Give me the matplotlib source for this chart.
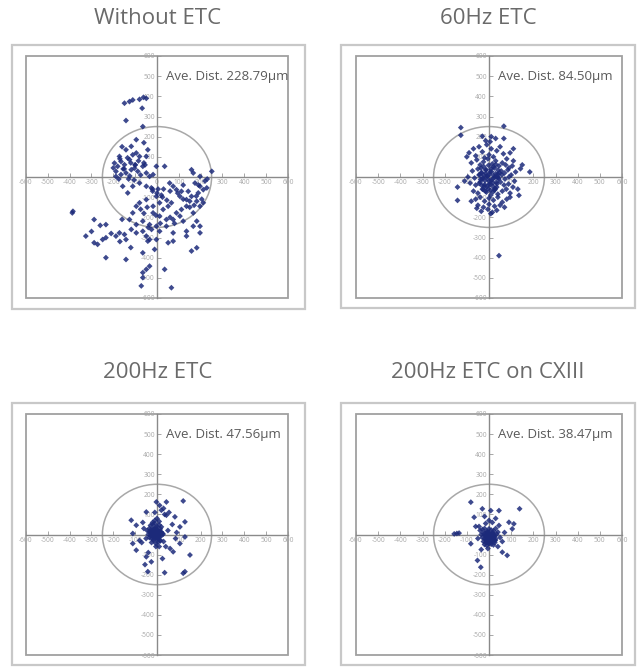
import numpy as np
import matplotlib.pyplot as plt
from matplotlib.patches import Circle, Rectangle

plt.rcParams['font.family'] = ['Open Sans', 'DejaVu Sans']

titles = ["Without ETC", "60Hz ETC", "200Hz ETC", "200Hz ETC on CXIII"]
ave_dist = [228.79, 84.50, 47.56, 38.47]
ticks = list(range(-600, 601, 100))
tol_radius = 250

# position error samples (um)
x_none = [-149, -126, -111, -80, -62, -49, -68, -142, -65,
          -195, -180, -165, -149, -126, -111, -95, -80, -188, -165, -142, -118, -103, -88, -65, -49,
          -34, -18, -111, -80, -49, -26, -157, -134, -188, -172, -142, -118, -95, -49, -42,
          35, -3, 158, 166, 197, 251, 174, 197, 212, 189, 158, 182, 197, 212, 135, 105, 74, 58, 89,
          112, 143, 228,
          -3, 12, -18, 28, 51, 66, 89, 112, 74, 43, 12, -18, -49, -80, -95, -111, -65, -34, -3,
          -126, -95, 12, 43, 105, 120, 135, 166, 182, 197, 197,
          -385, -388, -288, -234, -326, -288, -272, -249, -234, -188, -172, -149, -142, -118, -95,
          -65, -49, -34, -3, -234, -142, -65, -42, -11,
          -49, -34, -65, 35, -65, -72, 66,
          135, 166, 158, 182, 135, 74, 51, 74,
          -130, -100, -20, 20, 150, 230, 120, -160, -60, 5,
          -170, -155, -135, -120, -100, -85, -60, -200, -175, -150, -125, -105, -75, -55,
          180, 205, 220, 190, 170, 150, 120, 95, 60, 30, 15, -5, -25, -45,
          -20, 0, 25, 45, 60, 80, -75, -60, -40, -160, -210, -260, -300, -170, -120]
y_none = [366, 374, 382, 385, 395, 390, 341, 280, 250,
          69, 53, 77, 61, 86, 110, 119, 102, 28, 12, 20, 36, 44, 28, 53, 20,
          3, 12, -46, -30, -46, -54, -46, -79, 3, 102, 135, 152, 185, 102, 135,
          53, 53, 36, 20, 3, 28, -30, -46, -63, -79, -96, -120, -145, -128, -112, -96, -46, -30, -63,
          -71, -71, -54,
          -96, -128, -145, -161, -145, -128, -178, -161, -211, -211, -194, -178, -112, -128, -145,
          -178, -219, -236, -244,
          -211, -236, -269, -244, -194, -219, -145, -178, -219, -244, -277,
          -170, -178, -211, -236, -293, -326, -334, -310, -301, -293, -277, -285, -310, -260, -277,
          -269, -293, -310, -310, -400, -409, -376, -318, -359,
          -458, -442, -474, -458, -499, -540, -549,
          -269, -244, -367, -351, -293, -277, -326, -318,
          -10, 60, -70, -90, -150, -10, -40, 150, 170, -60,
          90, 40, 95, 70, 60, 80, 70, 45, -10, 40, 5, -15, 10, 60,
          -95, -110, -20, -40, -140, -120, -110, -80, -70, -60, -230, -190, -260, -150,
          -60, -80, -100, -115, -200, -230, -160, -180, -250, -210, -280, -240, -270, -320, -350]

x_60 = [-127, -127, 67, -30, 30, 67, 184, -142, -142, 8, 45, 135, 142,
        -90, -70, -60, -45, -30, -20, -10, 0, 10, 20, 35, 50, 65, 80, 95, 110,
        -80, -55, -40, -25, -5, 15, 30, 45, 60, 75, 90, 105,
        -75, -50, -35, -15, 5, 25, 40, 55, 70, 85, 100, 120,
        -95, -65, -45, -30, -10, 10, 28, 42, 58, 72, 90, 115,
        -85, -60, -40, -20, 0, 18, 35, 52, 68, 88, 108,
        -70, -50, -30, -12, 8, 25, 40, 60, 78, 95,
        -60, -40, -20, 0, 20, 40, 60, 80,
        -50, -25, 0, 25, 50, -35, -5, 15, 35, -15, 5,
        -100, -110, 150, 130, 110, -80, 95, -55, 70, 10,
        -42, -33, -22, -14, -6, 3, 12, 21, 30, 38, 47, -38, -28, -18, -8, 2, 14, 24, 33, 44,
        -44, -32, -20, -9, 6, 17, 27, 36, -36, -24, -13, -2, 9, 19, 31, 41, -26, -16, -4, 7, 18, 28]
y_60 = [245, 207, 252, 202, 191, 191, 25, -50, -116, -182, -390, -91, 41,
        120, 140, 105, 150, 125, 95, 160, 110, 140, 100, 130, 150, 115, 90, 120, 80,
        70, 85, 60, 75, 90, 65, 80, 55, 70, 60, 45, 55,
        30, 40, 20, 35, 25, 45, 15, 30, 20, 35, 10, 25,
        0, -5, 10, -10, 5, -15, 0, -5, 10, -10, 0, -20,
        -30, -40, -25, -45, -35, -30, -50, -25, -40, -35, -50,
        -70, -80, -60, -75, -90, -65, -85, -70, -60, -80,
        -110, -100, -120, -105, -115, -100, -125, -110,
        -140, -150, -135, -145, -140, -170, -160, -175, -165, 180, 175,
        100, -20, 60, -60, 140, -120, -100, -155, -150, 200,
        12, 22, 8, 18, 4, 14, 26, 6, 16, 2, 20, -12, -4, -18, -8, -22, -14, -2, -26, -10,
        -32, -42, -38, -48, -36, -46, -56, -34, 44, 52, 36, 58, 40, 50, 62, 34, -62, -70, -58, -66, -74, -60]

x_200 = [-3, 43, 120, 12, 20, 43, 82, 128, -49, -118, -95, -111, -111, -95, -49, -26, -42, 35,
         120, 128, 151, 74, 105, 128, 105,
         -45, -35, -25, -15, -5, 5, 15, 25, -40, -30, -20, -10, 0, 10, 20,
         -35, -25, -15, -5, 5, 15, -30, -20, -10, 0, 10, 20, 30, -25, -15, -5, 5, 15,
         -20, -10, 0, 10, -50, 40, -60, 50, 60, -70, 35, -40, 10, 70, 30, -10,
         -80, -65, -55, 85, 90, 55, 25, -5,
         -28, -22, -16, -10, -4, 2, 8, -26, -18, -12, -6, 0, 6, 12, -24, -14, -8, -2, 4, 10,
         -20, -12, -4, 4, -30, 16, 22, -34, 28, 0]
y_200 = [162, 162, 167, 145, 121, 96, 88, 63, 112, 71, 46, 5, -45, -78, -111, -136, -185, -190,
         -193, -185, -102, -86, -45, -12, 38,
         20, 30, 10, 25, 35, 15, 28, 5, 0, -5, 8, -10, 2, -8, 12,
         -15, -20, -25, -12, -18, -28, 45, 50, 55, 40, 48, 38, -35, -40, -30, -45, -38, -32,
         60, 70, 80, 65, -20, -60, 30, 20, -70, -40, 100, -90, -60, 50, 130, 110,
         -30, 60, -150, -20, 10, 110, -120, -60,
         14, 6, 18, -2, 10, 22, 4, -6, -12, 2, -16, 8, -8, 16, 26, 30, 20, 24, -22, -14,
         -4, 0, -10, 4, 6, 12, -4, 16, 2, -20]

x_cx = [-82, -30, 8, 45, 138, -67, 90, 112, 105, -135, -145, -157, -82, -52, -37, 60, 82,
        -40, -30, -20, -10, 0, 10, 20, 30, 40, -35, -25, -15, -5, 5, 15, 25, 35,
        -30, -20, -10, 0, 10, 20, 30, -25, -15, -5, 5, 15, 25, -20, -10, 0, 10, 20,
        -45, 45, -50, 50, -15, 15, 0, -60, 60, 70, -20, 30, -5, 40, -35,
        -16, -8, 0, 8, 16, 24, -12, -4, 4, 12, 20, 28, -18, -6, 6, 18, -10, 2, 14, 26,
        -2, 10, -14, 22, 6, -6]
y_cx = [161, 128, 119, 119, 128, 86, 61, 53, 28, 7, 5, 3, -46, -129, -163, -88, -104,
        20, 25, 30, 15, 28, 22, 18, 30, 12, 0, 5, -5, 8, -2, 4, -8, 2,
        -15, -20, -10, -25, -18, -12, -22, -35, -40, -30, -38, -32, -28, -50, -55, -45, -48, -52,
        40, 45, -20, -15, 55, 60, 70, 40, -35, 10, 90, 80, -70, -60, -75,
        -6, -12, -4, -14, -8, -2, -22, -26, -18, -24, -16, -30, 6, 10, 2, 8, -34, -38, -32, -40,
        -44, -10, -28, -12, -20, 14]

series = [(x_none, y_none), (x_60, y_60), (x_200, y_200), (x_cx, y_cx)]

fig = plt.figure(figsize=(6.39, 6.67), dpi=100)

ax_pos = [[26, 56, 262, 242], [356, 56, 266, 242], [26, 414, 262, 241], [356, 414, 266, 241]]
frame_pos = [[12, 45, 293, 264], [341, 45, 294, 263], [12, 403, 293, 262], [341, 403, 294, 262]]
title_pos = [(158, 19), (488, 19), (158, 372), (488, 372)]
W, H = 639, 667

for i in range(4):
    fx, fy, fw, fh = frame_pos[i]
    fig.add_artist(Rectangle((fx / W, 1 - (fy + fh) / H), fw / W, fh / H, transform=fig.transFigure,
                             fill=False, edgecolor='#c8c8c8', lw=1.6))
    tx, ty = title_pos[i]
    fig.text(tx / W, 1 - ty / H, titles[i], ha='center', va='center', fontsize=16, color='#6a6a6a')

    l, t, w, h = ax_pos[i]
    ax = fig.add_axes([l / W, 1 - (t + h) / H, w / W, h / H])
    ax.set_xlim(-600, 600)
    ax.set_ylim(-600, 600)
    for s in ['top', 'right']:
        ax.spines[s].set_visible(False)
    for s in ['left', 'bottom']:
        ax.spines[s].set_position('zero')
        ax.spines[s].set_color('#8a8a8a')
        ax.spines[s].set_linewidth(1.0)
    ax.add_patch(Rectangle((0, 0), 1, 1, transform=ax.transAxes, fill=False,
                           edgecolor='#a0a0a0', lw=1.3, clip_on=False))
    ax.set_xticks(ticks)
    ax.set_yticks(ticks)
    ax.set_xticklabels([str(v) for v in ticks])
    ax.set_yticklabels(['' if v == 0 else str(v) for v in ticks])
    ax.tick_params(direction='in', length=3, width=0.6, color='#999999',
                   labelsize=4.8, labelcolor='#a8a8a8', pad=1.5)

    ax.add_patch(Circle((0, 0), tol_radius, fill=False, edgecolor='#a8a8a8', lw=1.1))
    x, y = series[i]
    ax.scatter(x, y, s=9, marker='D', color='#1c2a7a', edgecolors='none', alpha=0.85, zorder=3)

    ax.text(40, 500, f"Ave. Dist. {ave_dist[i]:.2f}\u03bcm", ha='left', va='center',
            fontsize=9.5, color='#5a5a5a', zorder=4)

fig.savefig('out.png', dpi=100)
